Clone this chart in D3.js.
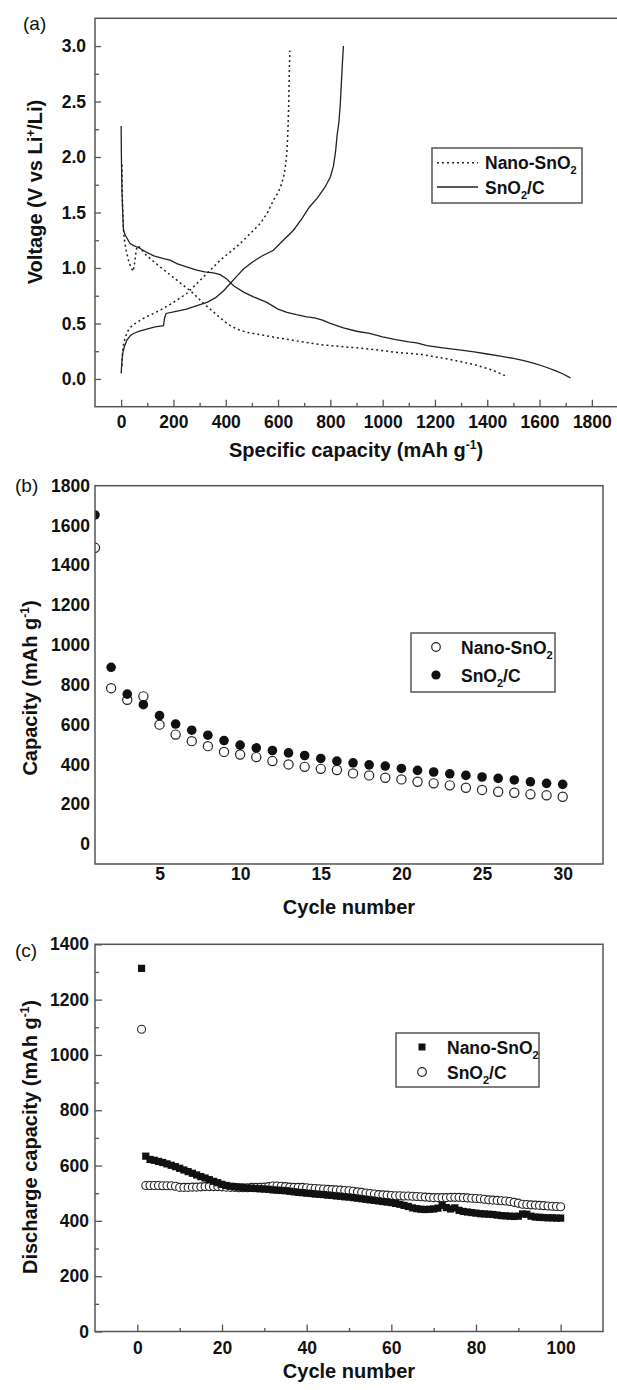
<!DOCTYPE html>
<html>
<head>
<meta charset="utf-8">
<script src="https://cdn.jsdelivr.net/npm/d3@7"></script>
<style>
body{margin:0;background:#fff;}
svg{display:block;font-family:"Liberation Sans",Arial,sans-serif;}
.ttl{font-weight:bold;font-size:20px;fill:#111;}
.leg{font-weight:bold;font-size:17.5px;fill:#111;}
.lbl{font-size:19px;fill:#111;}
</style>
</head>
<body>
<svg id="fig" width="617" height="1390"></svg>
<script>
// ---- (a) first charge / discharge profiles ----
var nanoDisCap = [3,5,8,12,18,28,38,46,52,58,65,80,98,149,213,277,315,350,379,410,442,480,530,600,680,760,850,950,1050,1150,1250,1350,1420,1477];
var nanoDisV   = [1.93,1.6,1.38,1.26,1.17,1.07,1.0,0.97,1.05,1.17,1.2,1.16,1.11,1.01,0.89,0.77,0.68,0.61,0.55,0.49,0.45,0.42,0.4,0.37,0.34,0.31,0.29,0.27,0.24,0.22,0.18,0.13,0.08,0.02];
var nanoChgCap = [3,5,8,15,25,41,80,149,200,251,315,379,455,532,560,582,600,614,624,630,634,638,641,643,645];
var nanoChgV   = [0.12,0.22,0.3,0.37,0.43,0.48,0.54,0.62,0.69,0.77,0.92,1.07,1.22,1.4,1.5,1.61,1.68,1.76,1.85,1.95,2.05,2.25,2.5,2.75,2.96];
var compDisCap = [0,1,3,6,9,15,22,34,50,70,98,125,162,187,213,250,289,320,353,379,404,430,470,506,557,600,634,670,710,740,770,800,850,900,950,1000,1050,1100,1130,1170,1230,1300,1350,1400,1450,1500,1540,1580,1620,1660,1690,1718];
var compDisV   = [2.28,2.0,1.7,1.5,1.34,1.3,1.27,1.22,1.2,1.18,1.14,1.11,1.085,1.07,1.04,1.01,0.98,0.965,0.955,0.94,0.9,0.84,0.78,0.74,0.69,0.63,0.6,0.58,0.56,0.55,0.53,0.5,0.46,0.43,0.41,0.38,0.355,0.335,0.325,0.3,0.28,0.26,0.245,0.225,0.205,0.185,0.165,0.14,0.11,0.075,0.045,0.01];
var compChgCap = [0,3,6,12,22,35,47,70,98,130,162,166,172,210,250,290,328,360,390,417,440,468,500,540,582,620,659,690,720,750,780,800,812,820,826,833,838,842,846,850];
var compChgV   = [0.05,0.16,0.23,0.29,0.35,0.39,0.41,0.43,0.45,0.47,0.48,0.55,0.59,0.61,0.63,0.66,0.69,0.73,0.79,0.86,0.92,0.99,1.05,1.11,1.16,1.25,1.34,1.44,1.55,1.63,1.73,1.82,1.92,2.05,2.2,2.32,2.48,2.66,2.84,3.0];
var capTicks = [0,200,400,600,800,1000,1200,1400,1600,1800];
var capMinor = [100,300,500,700,900,1100,1300,1500,1700];
var voltTicks = [0,0.5,1.0,1.5,2.0,2.5,3.0];
var voltMinor = [0.25,0.75,1.25,1.75,2.25,2.75];

// ---- (b) capacity vs cycle, 30 cycles ----
var cycB = d3.range(1,31);
var nanoB = [1488,783,725,742,600,550,517,492,463,450,437,417,400,388,378,372,355,345,333,325,313,305,295,283,272,263,258,250,245,238];
var compB = [1653,888,753,700,645,603,572,547,520,497,483,470,458,445,430,417,408,398,392,380,370,362,353,345,337,330,322,313,305,300];
var cycTicksB = [5,10,15,20,25,30];
var capTicksB = [0,200,400,600,800,1000,1200,1400,1600,1800];

// ---- (c) discharge capacity, 100 cycles ----
var cycC = d3.range(1,101);
var nanoC = [1313,634,622,619,615,611,606,601,596,590,584,578,572,566,560,555,549,543,538,532,
  528,525,523,522,520,519,518,517,516,515,514,512,511,510,509,507,505,503,502,500,
  499,497,496,495,493,492,490,489,487,486,484,482,480,478,476,474,472,470,468,466,
  463,460,456,452,447,444,442,441,442,443,446,456,448,443,447,438,434,432,430,428,
  426,425,424,423,421,419,418,417,416,417,425,424,417,414,413,412,411,411,410,410];
var compC = [1093,528,528,528,528,527,527,527,525,521,521,521,522,522,523,524,524,524,524,523,
  522,521,521,520,520,520,521,521,521,522,524,526,526,525,524,522,521,521,521,520,
  518,517,516,515,514,513,512,511,510,509,507,505,503,501,499,497,495,494,493,492,
  491,491,490,490,489,488,487,486,485,484,484,484,484,485,485,485,484,483,482,481,
  480,478,476,475,474,473,472,470,467,464,460,459,458,457,456,455,454,453,452,451];
var cycTicksC = [0,20,40,60,80,100];
var cycMinorC = [10,30,50,70,90];
var capTicksC = [0,200,400,600,800,1000,1200,1400];
var capMinorC = [100,300,500,700,900,1100,1300];

var svg = d3.select('#fig');
var frameColor = '#555';
var intFmt = d3.format('d');

// strip the axis line, restyle ticks and labels
function tidy(g){
	g.select('.domain').remove();
	g.selectAll('.tick line').attr('stroke',frameColor).attr('stroke-width',1.3);
	g.selectAll('.tick text').attr('fill','#111')
		.style('font-family','"Liberation Sans", Arial, sans-serif')
		.style('font-weight','bold').style('font-size','17.5px');
}

function drawFrame(x0,y0,x1,y1){
	svg.append('rect').attr('x',x0).attr('y',y0).attr('width',x1-x0).attr('height',y1-y0)
		.attr('fill','none').attr('stroke',frameColor).attr('stroke-width',1.5);
}

// title with a superscript piece in the middle
function supTitle(sel, before, sup, after){
	sel.append('tspan').text(before);
	sel.append('tspan').attr('dy',-8).style('font-size','12px').text(sup);
	sel.append('tspan').attr('dy',8).text(after);
}

// legend text like Nano-SnO2 or SnO2/C
function subText(sel, before, after){
	sel.append('tspan').text(before);
	sel.append('tspan').attr('dy',5).style('font-size','11px').text('2');
	if(after) sel.append('tspan').attr('dy',-5).text(after);
}

/* ===================== panel (a) ===================== */
var xa = d3.scaleLinear().domain([-100,1900]).range([95,618]);
var ya = d3.scaleLinear().domain([-0.25,3.25]).range([406.7,18.3]);

svg.append('g').attr('transform','translate(0,406.7)')
	.call(d3.axisBottom(xa).tickValues(capTicks).tickSize(-7).tickPadding(9).tickFormat(intFmt)).call(tidy);
svg.append('g').attr('transform','translate(0,406.7)')
	.call(d3.axisBottom(xa).tickValues(capMinor).tickSize(-4).tickFormat('')).call(tidy);
svg.append('g').attr('transform','translate(95,0)')
	.call(d3.axisLeft(ya).tickValues(voltTicks).tickSize(-6).tickPadding(9).tickFormat(d3.format('.1f'))).call(tidy);
svg.append('g').attr('transform','translate(95,0)')
	.call(d3.axisLeft(ya).tickValues(voltMinor).tickSize(-4).tickFormat('')).call(tidy);
drawFrame(95,18.3,640,406.7);

var lineA = d3.line().x(function(d){ return xa(d[0]);}).y(function(d){ return ya(d[1]);});
var curvesA = [
	{pts:d3.zip(nanoDisCap,nanoDisV), dash:'2,3'},
	{pts:d3.zip(nanoChgCap,nanoChgV), dash:'2,3'},
	{pts:d3.zip(compDisCap,compDisV), dash:null},
	{pts:d3.zip(compChgCap,compChgV), dash:null}
];
svg.append('g').selectAll('path').data(curvesA).enter().append('path')
	.attr('d',function(d){ return lineA(d.pts);})
	.attr('fill','none').attr('stroke','#222').attr('stroke-width',function(d){ return d.dash ? 1.5 : 1.3;})
	.attr('stroke-dasharray',function(d){ return d.dash;});

// legend (a)
var legA = svg.append('g');
legA.append('rect').attr('x',432).attr('y',148).attr('width',150).attr('height',55)
	.attr('fill','#fff').attr('stroke',frameColor).attr('stroke-width',1.5);
legA.append('line').attr('x1',437).attr('x2',478).attr('y1',162.7).attr('y2',162.7)
	.attr('stroke','#222').attr('stroke-width',1.4).attr('stroke-dasharray','2,3');
legA.append('line').attr('x1',437).attr('x2',478).attr('y1',187).attr('y2',187)
	.attr('stroke','#222').attr('stroke-width',1.3);
legA.append('text').attr('class','leg').attr('x',485).attr('y',169).call(subText,'Nano-SnO');
legA.append('text').attr('class','leg').attr('x',485).attr('y',193.5).call(subText,'SnO','/C');

svg.append('text').attr('class','ttl').attr('x',356).attr('y',457).attr('text-anchor','middle')
	.call(supTitle,'Specific capacity (mAh g','-1',')');
svg.append('text').attr('class','ttl').attr('text-anchor','middle')
	.attr('transform','translate(42,192) rotate(-90)')
	.call(function(t){
		t.append('tspan').text('Voltage  (V vs Li');
		t.append('tspan').attr('dy',-7).style('font-size','12px').text('+');
		t.append('tspan').attr('dy',7).text('/Li)');
	});
svg.append('text').attr('class','lbl').attr('x',23).attr('y',30).text('(a)');

/* ===================== panel (b) ===================== */
var xb = d3.scaleLinear().domain([1,32.5]).range([95,603]);
var yb = d3.scaleLinear().domain([-100,1800]).range([864,485.7]);

svg.append('g').attr('transform','translate(0,864)')
	.call(d3.axisBottom(xb).tickValues(cycTicksB).tickSize(0).tickPadding(4).tickFormat(intFmt)).call(tidy);
svg.append('g').attr('transform','translate(95,0)')
	.call(d3.axisLeft(yb).tickValues(capTicksB).tickSize(0).tickPadding(5).tickFormat(intFmt)).call(tidy);

svg.append('clipPath').attr('id','clipB').append('rect')
	.attr('x',95).attr('y',485.7).attr('width',508).attr('height',378.3);
var ptsB = svg.append('g').attr('clip-path','url(#clipB)');
ptsB.selectAll('circle.nano').data(d3.zip(cycB,nanoB)).enter().append('circle').attr('class','nano')
	.attr('cx',function(d){ return xb(d[0]);}).attr('cy',function(d){ return yb(d[1]);}).attr('r',4.6)
	.attr('fill','#fff').attr('stroke','#222').attr('stroke-width',1.2);
ptsB.selectAll('circle.comp').data(d3.zip(cycB,compB)).enter().append('circle').attr('class','comp')
	.attr('cx',function(d){ return xb(d[0]);}).attr('cy',function(d){ return yb(d[1]);}).attr('r',4.8)
	.attr('fill','#111');
drawFrame(95,485.7,603,864);

var legB = svg.append('g');
legB.append('rect').attr('x',411).attr('y',633).attr('width',144).attr('height',59)
	.attr('fill','#fff').attr('stroke',frameColor).attr('stroke-width',1.5);
legB.append('circle').attr('cx',436).attr('cy',647).attr('r',4.3).attr('fill','#fff').attr('stroke','#222').attr('stroke-width',1.2);
legB.append('circle').attr('cx',436).attr('cy',675).attr('r',4.6).attr('fill','#111');
legB.append('text').attr('class','leg').attr('x',461).attr('y',653.5).call(subText,'Nano-SnO');
legB.append('text').attr('class','leg').attr('x',461).attr('y',681.5).call(subText,'SnO','/C');

svg.append('text').attr('class','ttl').attr('x',349).attr('y',914).attr('text-anchor','middle').text('Cycle number');
svg.append('text').attr('class','ttl').attr('text-anchor','middle')
	.attr('transform','translate(37,688) rotate(-90)')
	.call(supTitle,'Capacity  (mAh g','-1',')');
svg.append('text').attr('class','lbl').attr('x',15).attr('y',492).text('(b)');

/* ===================== panel (c) ===================== */
var xc = d3.scaleLinear().domain([-10,110]).range([95,603]);
var yc = d3.scaleLinear().domain([0,1400]).range([1331.5,944.3]);

svg.append('g').attr('transform','translate(0,1331.5)')
	.call(d3.axisBottom(xc).tickValues(cycTicksC).tickSize(-7).tickPadding(10).tickFormat(intFmt)).call(tidy);
svg.append('g').attr('transform','translate(0,1331.5)')
	.call(d3.axisBottom(xc).tickValues(cycMinorC).tickSize(-3.5).tickFormat('')).call(tidy);
svg.append('g').attr('transform','translate(95,0)')
	.call(d3.axisLeft(yc).tickValues(capTicksC).tickSize(-7).tickPadding(6).tickFormat(intFmt)).call(tidy);
svg.append('g').attr('transform','translate(95,0)')
	.call(d3.axisLeft(yc).tickValues(capMinorC).tickSize(-4).tickFormat('')).call(tidy);

var ptsC = svg.append('g');
ptsC.selectAll('circle').data(d3.zip(cycC,compC)).enter().append('circle')
	.attr('cx',function(d){ return xc(d[0]);}).attr('cy',function(d){ return yc(d[1]);}).attr('r',4)
	.attr('fill','#fff').attr('stroke','#222').attr('stroke-width',1.1);
ptsC.selectAll('rect').data(d3.zip(cycC,nanoC)).enter().append('rect')
	.attr('x',function(d){ return xc(d[0])-3.6;}).attr('y',function(d){ return yc(d[1])-3.6;})
	.attr('width',7.2).attr('height',7.2).attr('fill','#111');
drawFrame(95,944.3,603,1331.5);

var legC = svg.append('g');
legC.append('rect').attr('x',396).attr('y',1033).attr('width',143).attr('height',54)
	.attr('fill','#fff').attr('stroke',frameColor).attr('stroke-width',1.5);
legC.append('rect').attr('x',418.5).attr('y',1043.5).attr('width',7).attr('height',7).attr('fill','#111');
legC.append('circle').attr('cx',422).attr('cy',1072).attr('r',4.3).attr('fill','#fff').attr('stroke','#222').attr('stroke-width',1.2);
legC.append('text').attr('class','leg').attr('x',447).attr('y',1053.5).call(subText,'Nano-SnO');
legC.append('text').attr('class','leg').attr('x',447).attr('y',1078.5).call(subText,'SnO','/C');

svg.append('text').attr('class','ttl').attr('x',349).attr('y',1378).attr('text-anchor','middle').text('Cycle number');
svg.append('text').attr('class','ttl').attr('text-anchor','middle')
	.attr('transform','translate(37,1137) rotate(-90)')
	.call(supTitle,'Discharge capacity (mAh g','-1',')');
svg.append('text').attr('class','lbl').attr('x',15).attr('y',957).text('(c)');
</script>
</body>
</html>
